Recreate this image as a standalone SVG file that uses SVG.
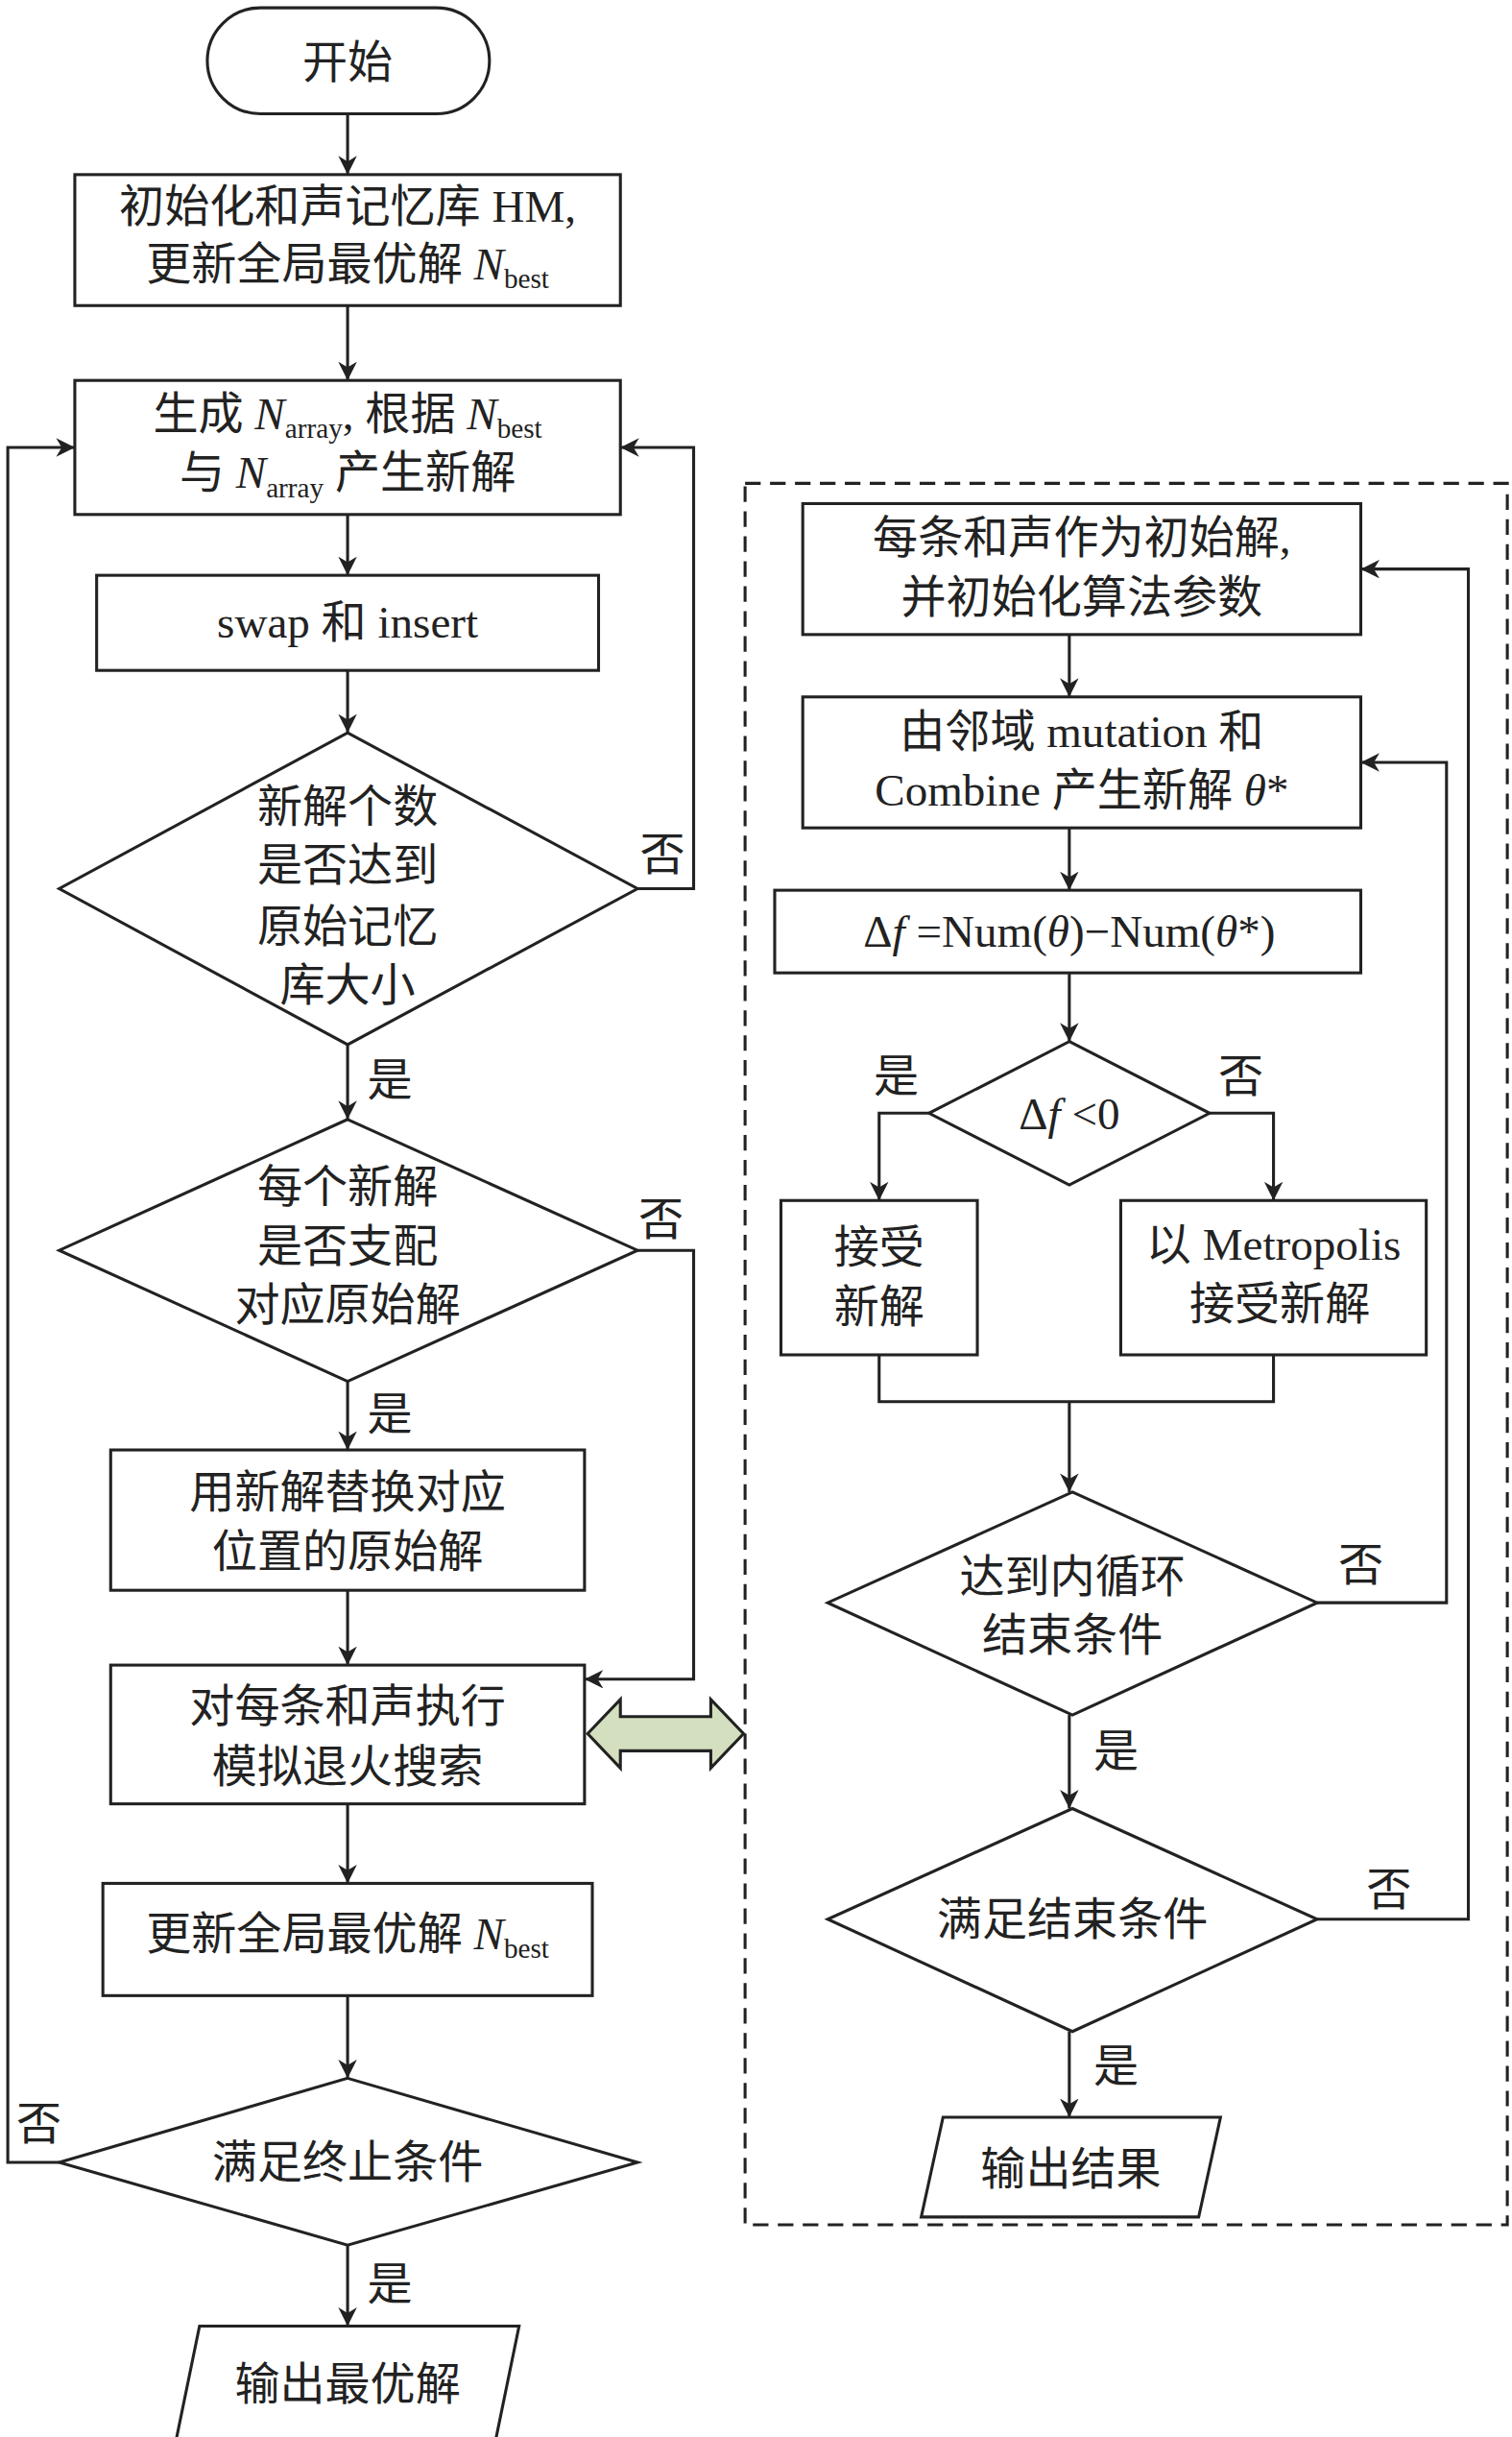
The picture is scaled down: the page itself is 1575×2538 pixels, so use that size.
<svg xmlns="http://www.w3.org/2000/svg" width="1575" height="2538" viewBox="0 0 1575 2538">
<defs>
<marker id="ar" viewBox="0 0 10 10" refX="10" refY="5" markerWidth="12" markerHeight="12" markerUnits="userSpaceOnUse" orient="auto"><path d="M0,0 L10,5 L0,10 L3,5 z" fill="#222"/></marker>
<style>
.s{fill:#fff;stroke:#222;stroke-width:1.9}
.c{fill:none;stroke:#222;stroke-width:1.9}
text{font-family:"Liberation Serif","Noto Sans CJK SC",serif;font-size:29px;fill:#222;text-anchor:middle}
.i{font-style:italic}
.sub{font-size:18px}
</style>
</defs>
<rect width="1575" height="2538" fill="#fff"/>
<g transform="scale(1.6237)">
<g id="connectors">
<path class="c" marker-end="url(#ar)" d="M223,73 V112"/>
<path class="c" marker-end="url(#ar)" d="M223,196 V244"/>
<path class="c" marker-end="url(#ar)" d="M223,330 V369"/>
<path class="c" marker-end="url(#ar)" d="M223,430 V470"/>
<path class="c" marker-end="url(#ar)" d="M223,670 V718"/>
<path class="c" marker-end="url(#ar)" d="M223,886 V930"/>
<path class="c" marker-end="url(#ar)" d="M223,1020 V1068"/>
<path class="c" marker-end="url(#ar)" d="M223,1157 V1208"/>
<path class="c" marker-end="url(#ar)" d="M223,1280 V1333"/>
<path class="c" marker-end="url(#ar)" d="M223,1440 V1492"/>
<path class="c" marker-end="url(#ar)" d="M409,570 H445 V287 H398"/>
<path class="c" marker-end="url(#ar)" d="M409,802 H445 V1077 H375"/>
<path class="c" marker-end="url(#ar)" d="M38,1387 H5 V287 H48"/>
<path class="c" marker-end="url(#ar)" d="M686,407 V447"/>
<path class="c" marker-end="url(#ar)" d="M686,531 V571"/>
<path class="c" marker-end="url(#ar)" d="M686,624 V668"/>
<path class="c" marker-end="url(#ar)" d="M596,714 H564 V770"/>
<path class="c" marker-end="url(#ar)" d="M776,714 H817 V770"/>
<path class="c" d="M564,869 V899 H817 V869"/>
<path class="c" marker-end="url(#ar)" d="M686,899 V957"/>
<path class="c" marker-end="url(#ar)" d="M686,1100 V1160"/>
<path class="c" marker-end="url(#ar)" d="M686,1303 V1358"/>
<path class="c" marker-end="url(#ar)" d="M845,1028 H928 V489 H873"/>
<path class="c" marker-end="url(#ar)" d="M845,1231 H942 V365 H873"/>
<path d="M377,1112 L398,1090 V1101 H456 V1090 L477,1112 L456,1134 V1123 H398 V1134 Z" fill="#d3dfbf" stroke="#222" stroke-width="1.9"/>
<text x="425" y="558">否</text><text x="250" y="703">是</text>
<text x="424" y="792">否</text><text x="250" y="917">是</text>
<text x="25" y="1372">否</text><text x="250" y="1475">是</text>
<text x="575" y="700">是</text><text x="796" y="700">否</text>
<text x="873" y="1014">否</text><text x="716" y="1133">是</text>
<text x="891" y="1222">否</text><text x="716" y="1335">是</text>
</g>
<rect id="dashed" x="478" y="310" width="489" height="1117" fill="none" stroke="#222" stroke-width="1.9" stroke-dasharray="10,6"/>
<g id="start"><rect class="s" x="133" y="5" width="181" height="68" rx="34"/><text x="223" y="50">开始</text></g>
<g id="init"><rect class="s" x="48" y="112" width="350" height="84"/><text x="223" y="142">初始化和声记忆库 HM,</text><text x="223" y="179">更新全局最优解 <tspan class="i">N</tspan><tspan class="sub" dy="6">best</tspan></text></g>
<g id="gen"><rect class="s" x="48" y="244" width="350" height="86"/><text x="223" y="275">生成 <tspan class="i">N</tspan><tspan class="sub" dy="6">array</tspan><tspan dy="-6">, 根据 </tspan><tspan class="i">N</tspan><tspan class="sub" dy="6">best</tspan></text><text x="223" y="313">与 <tspan class="i">N</tspan><tspan class="sub" dy="6">array</tspan><tspan dy="-6"> 产生新解</tspan></text></g>
<g id="swap"><rect class="s" x="62" y="369" width="322" height="61"/><text x="223" y="409">swap 和 insert</text></g>
<g id="d1"><polygon class="s" points="223,470 409,570 223,670 38,570"/><text x="223" y="527">新解个数</text><text x="223" y="565">是否达到</text><text x="223" y="604">原始记忆</text><text x="223" y="642">库大小</text></g>
<g id="d2"><polygon class="s" points="223,718 409,802 223,886 38,802"/><text x="223" y="771">每个新解</text><text x="223" y="809">是否支配</text><text x="223" y="847">对应原始解</text></g>
<g id="replace"><rect class="s" x="71" y="930" width="304" height="90"/><text x="223" y="967">用新解替换对应</text><text x="223" y="1005">位置的原始解</text></g>
<g id="sa"><rect class="s" x="71" y="1068" width="304" height="89"/><text x="223" y="1104">对每条和声执行</text><text x="223" y="1143">模拟退火搜索</text></g>
<g id="upd"><rect class="s" x="66" y="1208" width="314" height="72"/><text x="223" y="1250">更新全局最优解 <tspan class="i">N</tspan><tspan class="sub" dy="6">best</tspan></text></g>
<g id="d3"><polygon class="s" points="223,1333 409,1387 223,1440 38,1387"/><text x="223" y="1397">满足终止条件</text></g>
<g id="out1"><polygon class="s" points="128,1492 333,1492 318,1565 113,1565"/><text x="223" y="1539">输出最优解</text></g>
<g id="r1"><rect class="s" x="515" y="323" width="358" height="84"/><text x="694" y="355">每条和声作为初始解,</text><text x="694" y="393">并初始化算法参数</text></g>
<g id="r2"><rect class="s" x="515" y="447" width="358" height="84"/><text x="694" y="479">由邻域 mutation 和</text><text x="694" y="517">Combine 产生新解 <tspan class="i">θ</tspan>*</text></g>
<g id="r3"><rect class="s" x="497" y="571" width="376" height="53"/><text x="686" y="607">Δ<tspan class="i">f</tspan> =Num(<tspan class="i">θ</tspan>)−Num(<tspan class="i">θ</tspan>*)</text></g>
<g id="rd"><polygon class="s" points="686,668 776,714 686,760 596,714"/><text x="686" y="724">Δ<tspan class="i">f</tspan> &lt;0</text></g>
<g id="acc"><rect class="s" x="501" y="770" width="126" height="99"/><text x="564" y="810">接受</text><text x="564" y="848">新解</text></g>
<g id="met"><rect class="s" x="719" y="770" width="196" height="99"/><text x="817" y="808">以 Metropolis</text><text x="821" y="846">接受新解</text></g>
<g id="d4"><polygon class="s" points="688,957 845,1028 688,1100 531,1028"/><text x="688" y="1021">达到内循环</text><text x="688" y="1059">结束条件</text></g>
<g id="d5"><polygon class="s" points="688,1160 845,1231 688,1303 531,1231"/><text x="688" y="1241">满足结束条件</text></g>
<g id="out2"><polygon class="s" points="605,1358 783,1358 769,1422 591,1422"/><text x="687" y="1401">输出结果</text></g>
</g>
</svg>
